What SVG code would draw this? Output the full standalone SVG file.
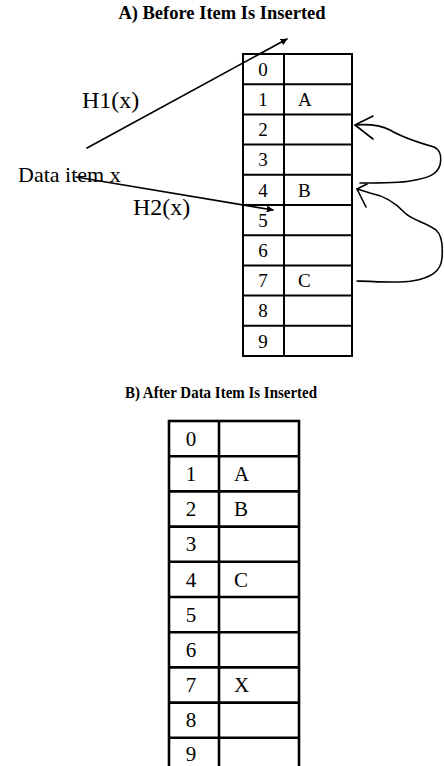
<svg xmlns="http://www.w3.org/2000/svg" width="444" height="766" viewBox="0 0 444 766">
  <style>
    .title { font-family: "Liberation Serif", "Times New Roman", serif; font-weight: bold; font-size: 18.5px; fill: #000; text-anchor: middle; }
    .titleB { font-size: 17.5px; }
    .label { font-family: "Liberation Serif", "Times New Roman", serif; font-size: 22px; fill: #000; }
    .hash { font-size: 24px; }
    .cellA { font-family: "Liberation Serif", "Times New Roman", serif; font-size: 19px; fill: #000; }
    .cellB { font-family: "Liberation Serif", "Times New Roman", serif; font-size: 21px; fill: #000; }
    .idx { text-anchor: middle; }
    .grid { fill: none; stroke: #000; }
    .gridA { stroke-width: 2; }
    .gridB { stroke-width: 2.6; }
    .wire { fill: none; stroke: #000; stroke-width: 1.6; stroke-linecap: round; stroke-linejoin: round; }
  </style>
  <defs>
    <marker id="solidHead" viewBox="0 0 10 10" refX="9" refY="5" markerWidth="7" markerHeight="7" orient="auto" markerUnits="userSpaceOnUse">
      <path d="M0,0 L10,5 L0,10 z" fill="#000"/>
    </marker>
  </defs>

  <rect width="444" height="766" fill="#fff"/>

  <text class="title" x="222" y="19">A) Before Item Is Inserted</text>
  <text class="title titleB" x="221" y="398" textLength="192" lengthAdjust="spacingAndGlyphs">B) After Data Item Is Inserted</text>

  <!-- hash table before insertion -->
  <g id="table-before">
    <rect class="grid gridA" x="243" y="54" width="109" height="302"/>
    <path class="grid gridA" d="M284,54 V356 M243,84.2 H352 M243,114.4 H352 M243,144.6 H352 M243,174.8 H352 M243,205 H352 M243,235.2 H352 M243,265.4 H352 M243,295.6 H352 M243,325.8 H352"/>
    <g class="cellA">
      <text class="idx" x="263" y="76">0</text>
      <text class="idx" x="263" y="106">1</text>
      <text class="idx" x="263" y="136">2</text>
      <text class="idx" x="263" y="166">3</text>
      <text class="idx" x="263" y="197">4</text>
      <text class="idx" x="263" y="227">5</text>
      <text class="idx" x="263" y="257">6</text>
      <text class="idx" x="263" y="287">7</text>
      <text class="idx" x="263" y="317">8</text>
      <text class="idx" x="263" y="348">9</text>
      <text x="298" y="106">A</text>
      <text x="298" y="197">B</text>
      <text x="298" y="287">C</text>
    </g>
  </g>

  <!-- hash table after insertion -->
  <g id="table-after">
    <rect class="grid gridB" x="169" y="421" width="130" height="352"/>
    <path class="grid gridB" d="M219,421 V773 M169,456.2 H299 M169,491.4 H299 M169,526.6 H299 M169,561.8 H299 M169,597 H299 M169,632.2 H299 M169,667.4 H299 M169,702.6 H299 M169,737.8 H299"/>
    <g class="cellB">
      <text class="idx" x="191" y="446">0</text>
      <text class="idx" x="191" y="481">1</text>
      <text class="idx" x="191" y="516">2</text>
      <text class="idx" x="191" y="551">3</text>
      <text class="idx" x="191" y="587">4</text>
      <text class="idx" x="191" y="622">5</text>
      <text class="idx" x="191" y="657">6</text>
      <text class="idx" x="191" y="692">7</text>
      <text class="idx" x="191" y="727">8</text>
      <text class="idx" x="191" y="761">9</text>
      <text x="234" y="481">A</text>
      <text x="234" y="516">B</text>
      <text x="234" y="587">C</text>
      <text x="234" y="692">X</text>
    </g>
  </g>

  <g id="data-item">
    <text class="label" x="18" y="182">Data item x</text>
  </g>
  <g id="h1-label">
    <text class="label hash" x="82" y="108">H1(x)</text>
  </g>
  <g id="h2-label">
    <text class="label hash" x="133" y="215">H2(x)</text>
  </g>

  <g id="connectors">
    <!-- H1(x) hash -->
    <path class="wire" d="M87,148 L287,39" marker-end="url(#solidHead)"/>
    <!-- H2(x) hash -->
    <path class="wire" d="M76,177 L273,210" marker-end="url(#solidHead)"/>
    <!-- probe from slot 4 to slot 2 -->
    <path class="wire" d="M360,183 C385,183 400,183 410,181 C428,178 437,175 440,165 C442,155 440,150 434,147 C420,143 400,136 390,130 C380,125 368,124 355,125"/>
    <path class="wire" d="M373,116 L355,125 L373,139"/>
    <!-- probe from slot 7 to slot 4 -->
    <path class="wire" d="M357,281 C380,282 400,283 412,281 C430,278 441,272 442,258 C443,245 442,235 436,230 C425,222 412,220 405,213 C395,202 385,196 370,193 C364,191 360,190 357,189"/>
    <path class="wire" d="M367,184 L357,189 L366,207"/>
  </g>
</svg>
